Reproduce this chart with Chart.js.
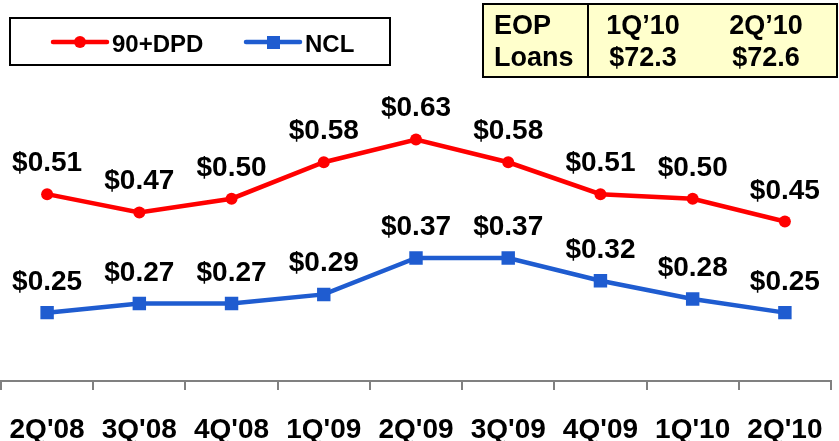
<!DOCTYPE html>
<html>
<head>
<meta charset="utf-8">
<script src="https://cdn.jsdelivr.net/npm/chart.js@4/dist/chart.umd.min.js"></script>
<style>
  html, body { margin: 0; padding: 0; background: #fff; }
  #wrap { width: 839px; height: 441px; }
</style>
</head>
<body>
<div id="wrap"><canvas id="myChart" width="839" height="441"></canvas></div>
<script>
// data
const quarters = ["2Q'08", "3Q'08", "4Q'08", "1Q'09", "2Q'09", "3Q'09", "4Q'09", "1Q'10", "2Q'10"];
const dpd90 = [0.51, 0.47, 0.50, 0.58, 0.63, 0.58, 0.51, 0.50, 0.45];
const ncl = [0.25, 0.27, 0.27, 0.29, 0.37, 0.37, 0.32, 0.28, 0.25];
const eopHeader = ['EOP', '1Q’10', '2Q’10'];
const eopLoans = ['Loans', '$72.3', '$72.6'];

const FONT = '"Liberation Sans", Arial, sans-serif';
const RED = '#FF0000';
const BLUE = '#1F5CD0';

// dollar labels above every point
const pointLabels = {
  id: 'pointLabels',
  afterDatasetsDraw(chart) {
    const ctx = chart.ctx;
    ctx.save();
    ctx.font = 'bold 28px ' + FONT;
    ctx.fillStyle = '#000';
    ctx.textAlign = 'center';
    ctx.textBaseline = 'alphabetic';
    chart.data.datasets.forEach((ds, i) => {
      chart.getDatasetMeta(i).data.forEach((pt, j) => {
        ctx.fillText('$' + ds.data[j].toFixed(2), pt.x, pt.y - 23);
      });
    });
    ctx.restore();
  }
};

// boxed legend top-left and the yellow EOP loans table top-right
const slideExtras = {
  id: 'slideExtras',
  afterDraw(chart) {
    const ctx = chart.ctx;
    ctx.save();

    // legend
    ctx.strokeStyle = '#000';
    ctx.lineWidth = 2;
    ctx.strokeRect(10, 18, 380, 47);
    const starts = [53, 246];
    chart.data.datasets.forEach((ds, i) => {
      const x = starts[i], y = 42;
      ctx.strokeStyle = ds.borderColor;
      ctx.lineWidth = 4.5;
      ctx.lineCap = 'round';
      ctx.beginPath();
      ctx.moveTo(x, y);
      ctx.lineTo(x + 54, y);
      ctx.stroke();
      ctx.fillStyle = ds.borderColor;
      if (ds.pointStyle === 'circle') {
        ctx.beginPath();
        ctx.arc(x + 27, y, 6, 0, Math.PI * 2);
        ctx.fill();
      } else {
        ctx.fillRect(x + 21, y - 6, 13, 13);
      }
      ctx.fillStyle = '#000';
      ctx.font = 'bold 24px ' + FONT;
      ctx.textAlign = 'left';
      ctx.textBaseline = 'alphabetic';
      ctx.fillText(ds.label, x + 59, 52);
    });

    // table
    ctx.fillStyle = '#FFFFCC';
    ctx.fillRect(483, 4, 354, 73);
    ctx.strokeStyle = '#000';
    ctx.lineWidth = 2;
    ctx.strokeRect(483, 4, 354, 73);
    ctx.beginPath();
    ctx.moveTo(588, 4);
    ctx.lineTo(588, 77);
    ctx.stroke();
    ctx.fillStyle = '#000';
    ctx.font = 'bold 27px ' + FONT;
    const colX = [494, 643, 766];
    [eopHeader, eopLoans].forEach((row, r) => {
      const baseY = r === 0 ? 34 : 66;
      row.forEach((txt, c) => {
        ctx.textAlign = c === 0 ? 'left' : 'center';
        ctx.fillText(txt, colX[c], baseY);
      });
    });
    ctx.restore();
  }
};

const ctx = document.getElementById('myChart').getContext('2d');
new Chart(ctx, {
  type: 'line',
  data: {
    labels: quarters,
    datasets: [
      {
        label: '90+DPD',
        data: dpd90,
        borderColor: RED,
        backgroundColor: RED,
        borderWidth: 4.5,
        pointStyle: 'circle',
        pointRadius: 6,
        pointBorderWidth: 0,
        tension: 0
      },
      {
        label: 'NCL',
        data: ncl,
        borderColor: BLUE,
        backgroundColor: BLUE,
        borderWidth: 4.5,
        pointStyle: 'rect',
        pointRadius: 9.5,
        pointBorderWidth: 0,
        tension: 0
      }
    ]
  },
  options: {
    responsive: false,
    animation: false,
    devicePixelRatio: 1,
    layout: { autoPadding: false, padding: { left: 1, right: 8, top: 62, bottom: 0 } },
    plugins: {
      legend: { display: false },
      tooltip: { enabled: false }
    },
    scales: {
      x: {
        offset: true,
        grid: {
          offset: true,
          drawOnChartArea: false,
          tickLength: 9,
          color: '#808080',
          lineWidth: 2
        },
        border: { color: '#808080', width: 2 },
        ticks: {
          color: '#000',
          font: { family: FONT, size: 28, weight: 'bold' },
          padding: 23,
          maxRotation: 0,
          autoSkip: false
        },
        afterFit: (scale) => {
          scale.height = 60;
          scale.paddingLeft = 0;
          scale.paddingRight = 0;
        }
      },
      y: {
        display: false,
        min: 0.1,
        max: 0.8
      }
    }
  },
  plugins: [pointLabels, slideExtras]
});
</script>
</body>
</html>
